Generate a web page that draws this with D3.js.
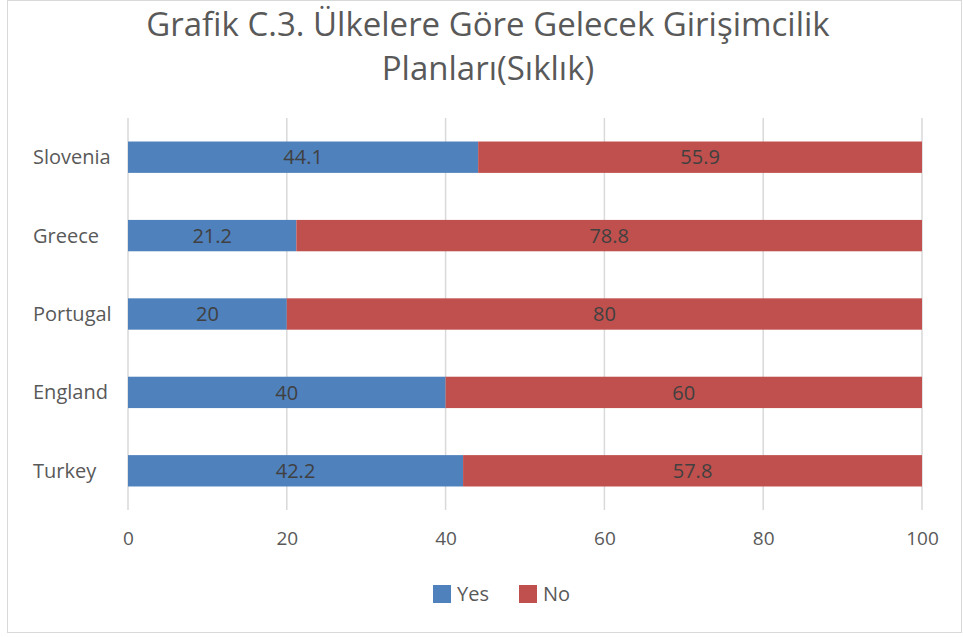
<!DOCTYPE html>
<html>
<head>
<meta charset="utf-8">
<script src="https://cdn.jsdelivr.net/npm/d3@7"></script>
<style>
  body { margin:0; background:#fff; font-family:"Open Sans", "Noto Sans", sans-serif; }
</style>
</head>
<body>
<div id="chart"></div>
<script>
const countries = ["Slovenia", "Greece", "Portugal", "England", "Turkey"];
const yesValues = [44.1, 21.2, 20, 40, 42.2];
const noValues = [55.9, 78.8, 80, 60, 57.8];
const xTicks = [0, 20, 40, 60, 80, 100];
const seriesNames = ["Yes", "No"];
const titleLines = ["Grafik C.3. Ülkelere Göre Gelecek Girişimcilik", "Planları(Sıklık)"];

const width = 963, height = 637;
const margin = { top:118, right:41, bottom:127, left:128 };
const colors = { Yes:"#4F81BD", No:"#C0504D" };

const svg = d3.select('#chart').append('svg').attr('width', width).attr('height', height);

svg.append('rect').attr('x',7.5).attr('y',0.5).attr('width',width-9).attr('height',632)
   .attr('fill','#fff').attr('stroke','#d9d9d9');

svg.selectAll('text.title').data(titleLines).enter().append('text')
   .attr('class','title').attr('x', 488).attr('y', (d,i)=> 36 + i*44)
   .attr('text-anchor','middle').style('font-size','33px').style('fill','#595959').text(d=>d);

const x = d3.scaleLinear().domain([0, 100]).range([margin.left, width - margin.right]);
const y = d3.scaleBand().domain(countries).range([margin.top, height - margin.bottom])
   .paddingInner(0.6).paddingOuter(0.3);

// gridlines
svg.append('g').selectAll('line').data(xTicks).enter().append('line')
   .attr('x1', d=>x(d)).attr('x2', d=>x(d)).attr('y1', margin.top).attr('y2', height - margin.bottom)
   .attr('stroke','#d9d9d9').attr('stroke-width',1.5);

// x axis labels
const xa = svg.append('g').attr('transform',`translate(0,${height - margin.bottom})`)
   .call(d3.axisBottom(x).tickValues(xTicks).tickSize(0).tickPadding(22));
xa.select('.domain').remove();
xa.selectAll('text').style('font-size','19px').style('fill','#595959').style('font-family','"Open Sans", sans-serif');

// category labels
svg.append('g').selectAll('text').data(countries).enter().append('text')
   .attr('x', 33).attr('y', d=>y(d) + y.bandwidth()/2).attr('dy','0.35em')
   .style('font-size','20px').style('fill','#595959').text(d=>d);

const stacked = countries.map((c,i)=>({ country:c, Yes:yesValues[i], No:noValues[i] }));
const stack = d3.stack().keys(seriesNames)(stacked);

const groups = svg.append('g').selectAll('g').data(stack).enter().append('g')
   .attr('fill', s=>colors[s.key]);
groups.selectAll('rect').data(s=>s).enter().append('rect')
   .attr('x', d=>x(d[0])).attr('y', d=>y(d.data.country))
   .attr('width', d=>x(d[1]) - x(d[0])).attr('height', y.bandwidth());
groups.selectAll('text').data(s=>s).enter().append('text')
   .attr('x', d=>(x(d[0]) + x(d[1]))/2).attr('y', d=>y(d.data.country) + y.bandwidth()/2).attr('dy','0.36em')
   .attr('text-anchor','middle').style('font-size','20px').style('fill','#404040')
   .text(d=> +(d[1]-d[0]).toFixed(1));

// legend
const legend = svg.append('g').attr('transform','translate(433,585)');
const lx = [0, 86];
seriesNames.forEach((n,i)=>{
  legend.append('rect').attr('x', lx[i]).attr('y',0).attr('width',18).attr('height',18).attr('fill',colors[n]);
  legend.append('text').attr('x', lx[i]+24).attr('y',9).attr('dy','0.36em')
     .style('font-size','20px').style('fill','#595959').text(n);
});
</script>
</body>
</html>
